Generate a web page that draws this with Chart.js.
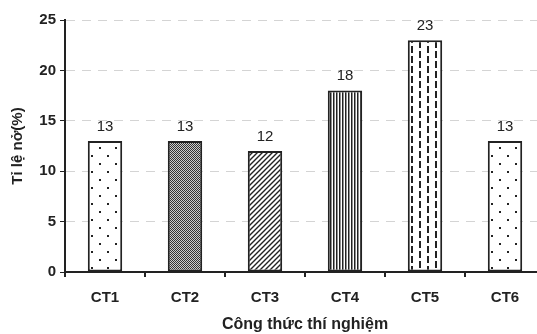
<!DOCTYPE html>
<html>
<head>
<meta charset="utf-8">
<script src="https://cdn.jsdelivr.net/npm/chart.js@4"></script>
<style>
  html, body { margin: 0; padding: 0; background: #fff; overflow: hidden; }
  #wrap { width: 537px; height: 334px; overflow: hidden; }
  #box { width: 560px; height: 334px; }
</style>
</head>
<body>
<div id="wrap"><div id="box"><canvas id="grafico"></canvas></div></div>
<script>
const categorias = ["CT1", "CT2", "CT3", "CT4", "CT5", "CT6"];
const valores = [13, 13, 12, 18, 23, 13];
const padroes = ["dots", "checker", "diag", "vert", "dash", "dots"];
const ticksY = [0, 5, 10, 15, 20, 25];

// cria o padrão de preenchimento de cada barra
function padrao(tipo) {
  const c = document.createElement("canvas");
  const g = c.getContext("2d");
  if (tipo === "dots") {
    c.width = 16; c.height = 16;
    g.fillStyle = "#fff"; g.fillRect(0, 0, 16, 16);
    g.fillStyle = "#222";
    g.fillRect(3, 3, 2, 2);
    g.fillRect(11, 11, 2, 2);
  } else if (tipo === "checker") {
    c.width = 2; c.height = 2;
    g.fillStyle = "#ccc"; g.fillRect(0, 0, 2, 2);
    g.fillStyle = "#333";
    g.fillRect(0, 0, 1, 1);
    g.fillRect(1, 1, 1, 1);
  } else if (tipo === "diag") {
    c.width = 5; c.height = 5;
    g.fillStyle = "#fff"; g.fillRect(0, 0, 5, 5);
    g.strokeStyle = "#222"; g.lineWidth = 1.4;
    g.beginPath();
    g.moveTo(-1, 6); g.lineTo(6, -1);
    g.moveTo(-1, 1); g.lineTo(1, -1);
    g.moveTo(4, 6); g.lineTo(6, 4);
    g.stroke();
  } else if (tipo === "vert") {
    c.width = 3; c.height = 3;
    g.fillStyle = "#fff"; g.fillRect(0, 0, 3, 3);
    g.fillStyle = "#222"; g.fillRect(0, 0, 1.5, 3);
  } else if (tipo === "dash") {
    c.width = 16; c.height = 20;
    g.fillStyle = "#fff"; g.fillRect(0, 0, 16, 20);
    g.fillStyle = "#222";
    g.fillRect(3, 1, 2, 7);
    g.fillRect(3, 11, 2, 7);
    g.fillRect(11, 6, 2, 7);
    g.fillRect(11, 16, 2, 4);
    g.fillRect(11, 0, 2, 3);
  }
  return document.createElement("canvas").getContext("2d").createPattern(c, "repeat");
}

const rotulos = {
  id: "rotulos",
  afterDatasetsDraw(chart) {
    const ctx = chart.ctx;
    const meta = chart.getDatasetMeta(0);
    ctx.save();
    ctx.font = "15px 'Liberation Sans', Arial, sans-serif";
    ctx.fillStyle = "#222";
    ctx.textAlign = "center";
    ctx.textBaseline = "bottom";
    meta.data.forEach((bar, i) => {
      ctx.fillText(valores[i], bar.x, bar.y - 7);
    });
    ctx.restore();
  }
};

const fonte = "'Liberation Sans', Arial, sans-serif";
const ctx = document.getElementById("grafico").getContext("2d");
new Chart(ctx, {
  type: "bar",
  data: {
    labels: categorias,
    datasets: [{
      data: valores,
      backgroundColor: padroes.map(padrao),
      borderColor: "#222",
      borderWidth: 2,
      borderSkipped: false,
      barPercentage: 0.43,
      categoryPercentage: 1
    }]
  },
  options: {
    responsive: true,
    maintainAspectRatio: false,
    animation: false,
    layout: { padding: { top: 20, right: 15, left: 0, bottom: 0 } },
    plugins: {
      legend: { display: false },
      tooltip: { enabled: false }
    },
    scales: {
      x: {
        grid: { display: true, drawOnChartArea: false, color: "#222", tickLength: 5, lineWidth: 2 },
        border: { color: "#222", width: 2 },
        ticks: { color: "#222", font: { family: fonte, size: 15, weight: "bold" }, padding: 12 },
        title: { display: true, text: "Công thức thí nghiệm", color: "#222", font: { family: fonte, size: 16, weight: "bold" }, padding: { top: 14, bottom: 0 } },
        afterFit(s) { s.height = 62; }
      },
      y: {
        min: 0,
        max: 25,
        afterBuildTicks(s) { s.ticks = ticksY.map(v => ({ value: v })); },
        grid: {
          color: "#d4d4d4",
          lineWidth: 1,
          tickColor: "#222",
          tickLength: 5,
          tickBorderDash: []
        },
        border: { color: "#222", width: 2, dash: [9, 7] },
        ticks: { color: "#222", font: { family: fonte, size: 15, weight: "bold" }, padding: 4 },
        title: { display: true, text: "Tỉ lệ nở(%)", color: "#222", font: { family: fonte, size: 15, weight: "bold" }, padding: { top: 9, bottom: 4 } },
        afterFit(s) { s.width = 65; }
      }
    }
  },
  plugins: [rotulos]
});
</script>
</body>
</html>
